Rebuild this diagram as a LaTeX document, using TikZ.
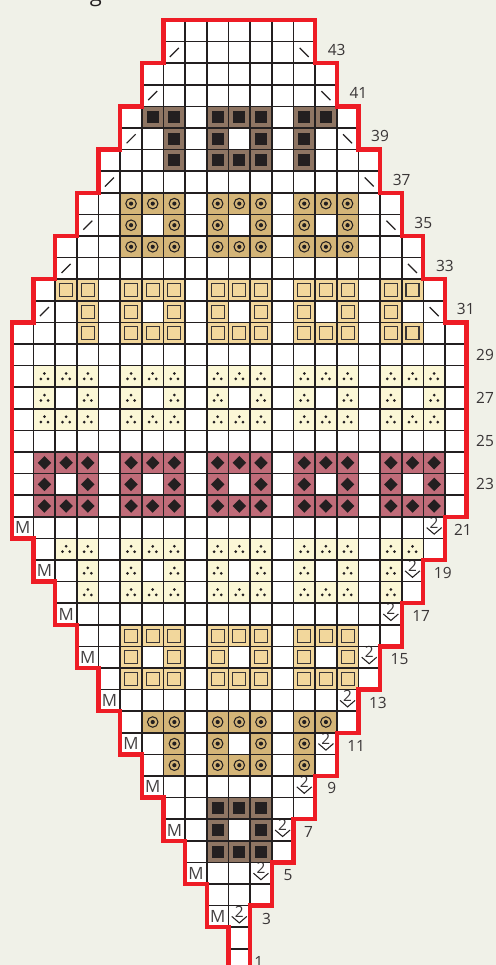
\documentclass[tikz,border=0pt]{standalone}
\usepackage{fontspec}
\setmainfont{Open Sans}
\usepackage{xcolor}
\definecolor{paper}{HTML}{F0F1E8}
\definecolor{ink}{HTML}{231F20}
\definecolor{edge}{HTML}{EE1C25}
\definecolor{umber}{HTML}{8E7563}
\definecolor{tan}{HTML}{D4B578}
\definecolor{wheat}{HTML}{F2D79C}
\definecolor{cream}{HTML}{FBF7D6}
\definecolor{rose}{HTML}{C06C79}
\tikzset{
  cell/.style={minimum width=0.433cm, minimum height=0.432cm, inner sep=0pt, outer sep=0pt},
  darkst/.style={cell, fill=umber, path picture={
      \fill[ink, shift={(path picture bounding box.center)}] (-1.2mm,-1.2mm) rectangle (1.2mm,1.2mm);}},
  ringst/.style={cell, fill=tan, path picture={
      \draw[ink, line width=0.6pt, shift={(path picture bounding box.center)}] (0,0) circle (1.05mm);
      \fill[ink, shift={(path picture bounding box.center)}] (0,0) circle (0.42mm);}},
  boxst/.style={cell, fill=wheat, path picture={
      \draw[ink!90, line width=0.6pt, shift={(path picture bounding box.center)}] (-1.3mm,-1.3mm) rectangle (1.3mm,1.3mm);}},
  dotst/.style={cell, fill=cream, path picture={
      \fill[ink, shift={(path picture bounding box.center)}] (0,0.58mm) circle (0.3mm)
        (-0.72mm,-0.5mm) circle (0.3mm) (0.72mm,-0.5mm) circle (0.3mm);}},
  gemst/.style={cell, fill=rose, path picture={
      \fill[ink, shift={(path picture bounding box.center)}] (0,1.35mm) -- (1.35mm,0) -- (0,-1.35mm) -- (-1.35mm,0) -- cycle;}},
  riseleft/.style={cell, path picture={
      \draw[ink, line width=0.7pt, shift={(path picture bounding box.center)}] (-0.9mm,-0.9mm) -- (0.9mm,0.9mm);}},
  riseright/.style={cell, path picture={
      \draw[ink, line width=0.7pt, shift={(path picture bounding box.center)}] (-0.9mm,0.9mm) -- (0.9mm,-0.9mm);}},
  twodec/.style={cell, path picture={
      \draw[ink, line width=0.6pt, shift={(path picture bounding box.center)}] (-1.5mm,0) -- (0,-1.3mm) -- (1.5mm,0);}},
  rownum/.style={font=\fontsize{8.8pt}{10pt}\selectfont, text=ink!90, inner sep=0pt},
}
% one row of equal stitches: style, chart row, columns
\newcommand{\stitches}[3]{\foreach \c in {#3} {\node[#1] (#1-#2-\c) at (\c+0.5,#2+0.5) {};}}
\newcommand{\chartoutline}{(7,0) -- (7,2) -- (6,2) -- (6,4) -- (5,4) -- (5,6) -- (4,6) -- (4,8) -- (3,8) -- (3,10) -- (2,10)
  -- (2,12) -- (1,12) -- (1,14) -- (0,14) -- (0,24) -- (1,24) -- (1,26) -- (2,26) -- (2,28) -- (3,28) -- (3,30)
  -- (4,30) -- (4,32) -- (5,32) -- (5,34) -- (6,34) -- (6,36) -- (7,36) -- (7,38) -- (8,38) -- (8,40) -- (9,40)
  -- (9,42) -- (10,42) -- (10,45) -- (11,45) -- (11,41) -- (12,41) -- (12,39) -- (13,39) -- (13,37) -- (14,37)
  -- (14,35) -- (15,35) -- (15,33) -- (16,33) -- (16,31) -- (17,31) -- (17,29) -- (18,29) -- (18,27) -- (19,27)
  -- (19,25) -- (20,25) -- (20,23) -- (21,23) -- (21,14) -- (20,14) -- (20,12) -- (19,12) -- (19,10) -- (18,10)
  -- (18,8) -- (17,8) -- (17,6) -- (16,6) -- (16,4) -- (15,4) -- (15,2) -- (14,2) -- (14,0) -- cycle}

\begin{document}
\begin{tikzpicture}[x=0.433cm, y=-0.432cm]
    \path[use as bounding box, clip] (-0.554,-0.926) rectangle (22.356,43.75);
    \fill[paper] (-0.554,-0.926) rectangle (22.356,43.75);
    \node[font=\fontsize{12.5pt}{14pt}\selectfont, text=ink, anchor=base, inner sep=0pt] (title) at (3.88,-0.88) {g};
    \fill[white] \chartoutline;

    % top to bottom, three rows to a motif
    \stitches{darkst}{4}{6,7,9,10,11,13,14}
    \stitches{darkst}{5}{7,9,11,13}
    \stitches{darkst}{6}{7,9,10,11,13}
    \stitches{ringst}{8}{5,6,7,9,10,11,13,14,15}
    \stitches{ringst}{9}{5,7,9,11,13,15}
    \stitches{ringst}{10}{5,6,7,9,10,11,13,14,15}
    \stitches{boxst}{12}{2,3,5,6,7,9,10,11,13,14,15,17,18}
    \stitches{boxst}{13}{3,5,7,9,11,13,15,17}
    \stitches{boxst}{14}{3,5,6,7,9,10,11,13,14,15,17,18}
    \stitches{dotst}{16}{1,2,3,5,6,7,9,10,11,13,14,15,17,18,19}
    \stitches{dotst}{17}{1,3,5,7,9,11,13,15,17,19}
    \stitches{dotst}{18}{1,2,3,5,6,7,9,10,11,13,14,15,17,18,19}
    \stitches{gemst}{20}{1,2,3,5,6,7,9,10,11,13,14,15,17,18,19}
    \stitches{gemst}{21}{1,3,5,7,9,11,13,15,17,19}
    \stitches{gemst}{22}{1,2,3,5,6,7,9,10,11,13,14,15,17,18,19}
    \stitches{dotst}{24}{2,3,5,6,7,9,10,11,13,14,15,17,18}
    \stitches{dotst}{25}{3,5,7,9,11,13,15,17}
    \stitches{dotst}{26}{3,5,6,7,9,10,11,13,14,15,17}
    \stitches{boxst}{28}{5,6,7,9,10,11,13,14,15}
    \stitches{boxst}{29}{5,7,9,11,13,15}
    \stitches{boxst}{30}{5,6,7,9,10,11,13,14,15}
    \stitches{ringst}{32}{6,7,9,10,11,13,14}
    \stitches{ringst}{33}{7,9,11,13}
    \stitches{ringst}{34}{7,9,10,11,13}
    \stitches{darkst}{36}{9,10,11}
    \stitches{darkst}{37}{9,11}
    \stitches{darkst}{38}{9,10,11}

    \foreach \c/\r in {7/1,6/3,5/5,4/7,3/9,2/11,1/13}
      \node[riseleft] (left-\r) at (\c+0.5,\r+0.5) {};
    \foreach \c/\r in {13/1,14/3,15/5,16/7,17/9,18/11,19/13}
      \node[riseright] (right-\r) at (\c+0.5,\r+0.5) {};
    \foreach \c/\r in {0/23,1/25,2/27,3/29,4/31,5/33,6/35,7/37,8/39,9/41}
      \node[cell, font=\fontsize{9.6pt}{10pt}\selectfont, text=ink!85] (make-\r) at (\c+0.5,\r+0.5) {M};
    \foreach \c/\r in {19/23,18/25,17/27,16/29,15/31,14/33,13/35,12/37,11/39,10/41} {
      \node[twodec] (dec-\r) at (\c+0.5,\r+0.5) {};
      \node[rownum] (two-\r) at ([yshift=1mm]dec-\r.center) {2};
    }

    \begin{scope}
      \clip \chartoutline;
      \foreach \c in {1,...,20}
        \draw[ink, line width=0.95pt] (\c,0) -- (\c,45);
      \foreach \r in {1,...,43}
        \draw[ink, line width=0.95pt] (0,\r) -- (21,\r);
    \end{scope}
    \draw[edge, line width=2.45pt] \chartoutline;

    \foreach \n/\x/\y in {43/15/1.39, 41/16/3.38, 39/17/5.37, 37/18/7.4, 35/19/9.4, 33/20/11.4, 31/20.96/13.38,
      29/21.85/15.5, 27/21.85/17.5, 25/21.85/19.5, 23/21.85/21.5, 21/20.83/23.6, 19/19.9/25.6, 17/18.9/27.6,
      15/17.9/29.6, 13/16.9/31.6, 11/15.9/33.6, 9/14.77/35.55, 7/13.7/37.6, 5/12.75/39.6, 3/11.76/41.6, 1/11.4/43.6}
      \node[rownum] (row-\n) at (\x,\y) {\n};
  \end{tikzpicture}
\end{document}
